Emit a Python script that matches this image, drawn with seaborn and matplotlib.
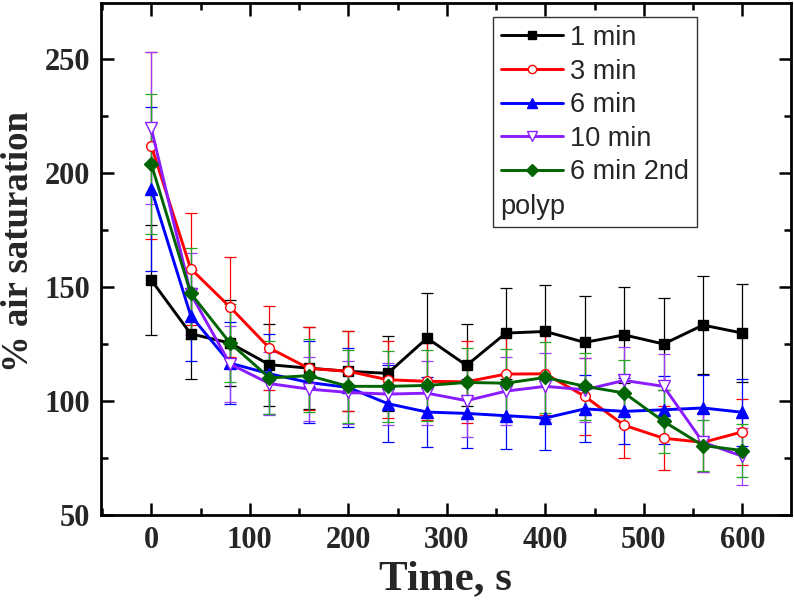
import numpy as np
import pandas as pd
import matplotlib
matplotlib.use("Agg")
import matplotlib.pyplot as plt
from matplotlib.lines import Line2D
from matplotlib.ticker import MultipleLocator
import seaborn as sns

# ---- data ----
time_s = [0, 40, 80, 120, 160, 200, 240, 280, 320, 360, 400, 440, 480, 520, 560, 600]

one_min = [153, 129.4, 125.3, 115.8, 114.3, 112.9, 112, 127.5, 115.5, 129.7, 130.4, 125.6, 128.9, 124.9, 133.2, 129.7]
one_min_err = [24, 20, 19, 18, 18, 17.5, 16.6, 20, 18, 20, 20.5, 20.4, 21, 20, 21.5, 21.6]

three_min = [212, 158, 141.1, 123.1, 114.2, 112.9, 109.2, 108.5, 108.3, 111.7, 111.8, 101.9, 89.2, 83.5, 81.7, 86.3]
three_min_err = [41, 24.6, 22, 18.6, 18.3, 17.5, 17, 17, 18, 18, 18, 17, 14.5, 14, 13, 14.5]

six_min = [193, 137.4, 116.5, 111.8, 108, 105.8, 98.7, 95, 94.4, 93.4, 92.4, 96.4, 95.3, 96, 96.8, 94.9]
six_min_err = [36, 20, 18, 17.5, 18, 17.5, 17, 15.5, 15, 14.5, 14, 14.7, 14.5, 15, 14.7, 14.6]

ten_min = [219.7, 147, 116.1, 107.5, 105.1, 103.6, 102.9, 103.3, 100, 104.2, 106.3, 104.8, 108.9, 106.3, 81.7, 75.6]
ten_min_err = [33.5, 18, 16.5, 14, 14, 14, 13.5, 14, 16, 15, 14.5, 14, 14.6, 14.3, 13, 12.5]

six_min_2nd = [204, 147.2, 125.3, 110, 111, 106.3, 106.3, 106.7, 108, 107.7, 110.2, 106.3, 103.4, 90.9, 80.3, 78.1]
six_min_2nd_err = [30.7, 20, 17, 16, 16, 16, 15.7, 15.5, 15.2, 15, 15.4, 14.7, 14.6, 13.8, 11, 11.6]

labels = ["1 min", "3 min", "6 min", "10 min", "6 min 2nd"]
extra_label = "polyp"
x_label = "Time, s"
y_label = "% air saturation"

series = [
    (labels[0], one_min, one_min_err, "black", "black", "s", "black", 6.5),
    (labels[1], three_min, three_min_err, "#ff0000", "#ff0000", "o", "white", 7),
    (labels[2], six_min, six_min_err, "#0000ff", "#0000ff", "^", "#0000ff", 8),
    (labels[3], ten_min, ten_min_err, "#8a1cff", "#9a3cff", "v", "white", 8),
    (labels[4], six_min_2nd, six_min_2nd_err, "#006400", "#22a822", "D", "#006400", 7),
]

sns.set_style("ticks")
plt.rcParams["font.family"] = ["Liberation Serif", "DejaVu Serif"]

fig = plt.figure(figsize=(7.94, 6.09), dpi=100)
ax = fig.add_axes([101 / 794, 1 - 514.5 / 609, (790.7 - 101) / 794, (514.5 - 3) / 609])

handles = []
for name, vals, errs, col, ecol, mk, mfc, ms in series:
    df = pd.DataFrame({"t": time_s, "v": vals})
    ax.errorbar(time_s, vals, yerr=errs, fmt="none", ecolor=ecol, elinewidth=0.9,
                capsize=4.2, capthick=0.9, zorder=1)
    sns.lineplot(data=df, x="t", y="v", ax=ax, color=col, lw=2.1, marker=mk,
                 markersize=ms, markerfacecolor=mfc, markeredgecolor=col,
                 markeredgewidth=1.0, zorder=3, legend=False, errorbar=None)
    handles.append(Line2D([], [], color=col, lw=2.1, marker=mk, markersize=ms * 0.85,
                          markerfacecolor=mfc, markeredgecolor=col, markeredgewidth=1.0))

handles.append(Line2D([], [], color="none", lw=0))
leg = ax.legend(handles, labels + [" "], loc="upper left", bbox_to_anchor=(0.568, 0.973),
                borderaxespad=0, frameon=True, fancybox=False, edgecolor="#333333",
                framealpha=1, prop={"family": "Liberation Sans", "size": 19.5},
                handlelength=2.3, handletextpad=0.25, labelspacing=0.28, borderpad=0.3)
leg.get_frame().set_linewidth(1.0)
leg.set_zorder(5)
ax.text((500 - 101) / 689.7, (514.5 - 214) / 511.5, extra_label, transform=ax.transAxes,
        ha="left", va="baseline", fontsize=19.5, family="Liberation Sans", zorder=10)

ax.set_xlim(-51, 649)
ax.set_ylim(50, 274.7)
ax.xaxis.set_major_locator(MultipleLocator(100))
ax.xaxis.set_minor_locator(MultipleLocator(50))
ax.yaxis.set_major_locator(MultipleLocator(50))
ax.yaxis.set_minor_locator(MultipleLocator(25))
ax.tick_params(which="both", direction="in", top=True, right=True, width=1.8, color="black")
ax.tick_params(which="major", length=9, labelsize=22, pad=8)
ax.tick_params(which="minor", length=5)
for lab in ax.get_xticklabels() + ax.get_yticklabels():
    lab.set_fontweight("bold")
for sp in ax.spines.values():
    sp.set_linewidth(2)
    sp.set_color("black")

ax.set_xlabel(x_label, fontsize=31, fontweight="bold", labelpad=4)
ax.set_ylabel(y_label, fontsize=26.5, fontweight="bold")
ax.yaxis.set_label_coords((36 - 101) / 689.7, (514.5 - 242) / 511.5)

fig.savefig("out.png", dpi=100)
